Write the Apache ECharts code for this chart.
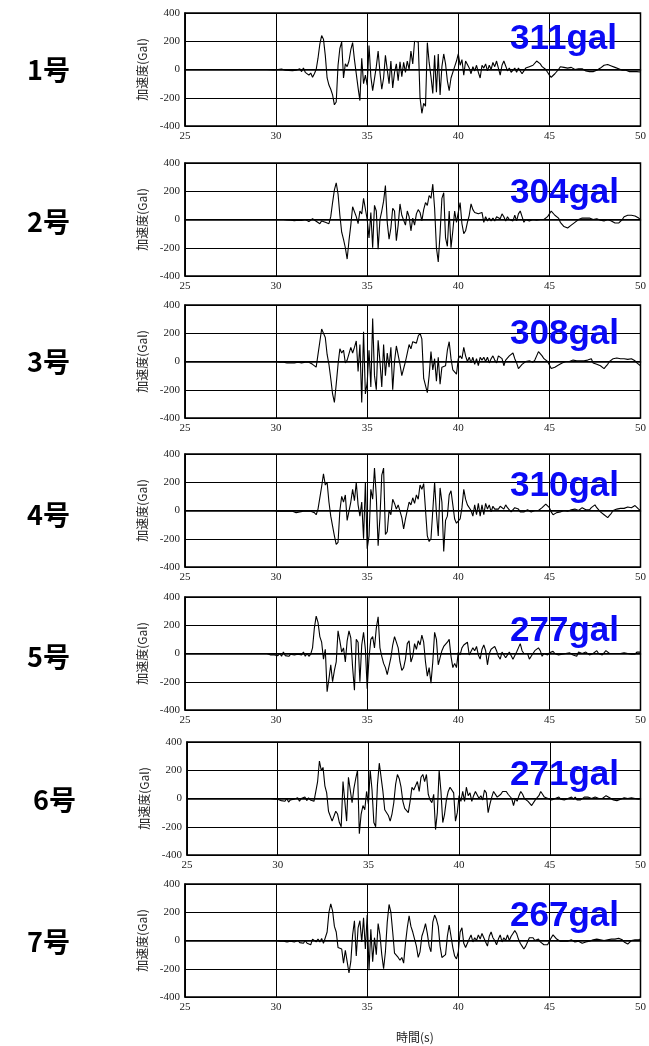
<!DOCTYPE html>
<html>
<head>
<meta charset="utf-8">
<script src="https://cdn.jsdelivr.net/npm/echarts@6/dist/echarts.min.js"></script>
<style>
  html, body { margin: 0; padding: 0; background: #fff; }
  #chart { width: 649px; height: 1046px; }
</style>
</head>
<body>
<div id="chart"></div>
<script>
  // sampling step (s) of the traced records
  const STEP = 0.1;

  const stations = ['1号', '2号', '3号', '4号', '5号', '6号', '7号'];
  const peaks = ['311gal', '304gal', '308gal', '310gal', '277gal', '271gal', '267gal'];
  const startTimes = [29.3, 30.4, 29.4, 29.5, 29.5, 29.4, 30.0];

  // acceleration (gal), one value every STEP seconds from startTimes[i]
  const accel1 = [0,0,0,0,-2,-2,-3,
    -3,0,-5,3,-8,-5,-10,-6,-12,-8,
    -10,-5,-12,5,-15,10,-20,-10,-40,-25,
    -55,-30,0,80,180,240,215,100,-60,-110,
    -140,-180,-250,-230,30,150,195,-60,40,20,
    60,140,190,70,60,-130,-220,80,-100,-40,
    -110,170,-50,-150,-160,20,130,-20,-140,-60,
    100,110,-100,60,-130,-20,40,-80,55,-50,
    50,-20,60,0,130,40,200,210,195,-200,
    -310,-240,-260,190,50,-50,-170,100,-160,110,
    -180,20,110,40,-80,-150,-60,-50,20,60,
    110,30,70,-40,60,50,10,-30,20,-10,
    30,-20,-60,30,10,40,-10,30,0,50,
    20,60,10,-40,30,60,50,-10,10,-20,
    -10,10,-20,10,0,-30,-10,10,0,20,
    10,30,40,60,55,40,20,10,0,-20,
    -40,-55,-50,-30,-20,0,20,25,15,20,
    10,5,15,5,0,10,5,0,5,-5,
    -10,-10,-15,-15,-15,-10,-5,0,10,20,
    30,35,35,30,25,20,15,10,5,0,
    -5,-10,-5,-12,-15,-10,-15,-20,-15,-15,
    -18];

  const accel2 = [0,-2,-3,0,-5,-5,
    -8,-3,-5,-10,-6,-10,0,-8,-15,-5,
    5,-5,-12,-10,-30,-10,-15,-20,-15,-30,
    20,120,210,260,180,30,-90,-140,-200,-280,
    -150,-40,90,80,20,-30,60,40,150,140,
    0,-130,50,-200,100,60,-210,0,60,130,
    240,-20,-140,-60,80,60,-150,-40,110,30,
    30,-40,60,20,-80,10,-40,40,70,50,
    -10,70,120,100,170,150,250,80,-200,-300,
    -100,150,190,-130,-190,60,-200,-80,60,-20,
    50,120,-30,-100,-80,-20,30,110,70,50,
    60,40,30,50,-20,20,-10,10,-10,10,
    -10,20,20,5,40,20,-10,20,0,0,
    -10,30,-10,40,60,20,-20,0,10,-10,
    -10,0,5,-5,-5,0,0,0,5,20,
    40,60,50,30,20,10,-20,-30,-50,-55,
    -60,-55,-40,-30,-20,-10,0,10,10,10,
    10,5,10,10,0,5,5,-5,-5,-10,
    -10,-5,0,-5,-10,-20,-25,-30,-25,-20,
    0,20,30,30,30,30,25,25,15,10,
    0];

  const accel3 = [0,0,0,0,0,0,
    0,5,-5,0,-5,0,-10,-5,-10,-5,
    -10,-15,-5,-10,-10,0,-5,5,-5,5,
    -20,-10,-40,50,140,230,220,170,50,-20,
    -120,-230,-290,-160,-20,90,60,80,-10,10,
    20,100,60,100,145,-70,120,-290,210,-230,
    -150,80,-180,305,-100,-200,150,0,-180,120,
    -100,60,-40,100,-200,0,110,100,-20,-100,
    -110,0,60,120,90,140,150,130,180,200,
    160,-120,-110,-220,-100,70,-60,20,-140,30,
    -160,-40,-50,-30,80,140,20,-60,-50,-90,
    20,40,20,100,40,0,30,-10,30,-20,
    20,-30,30,10,30,0,30,-10,20,40,
    10,-10,40,30,20,-30,10,20,40,30,
    60,20,-10,-50,-40,-20,-10,0,-10,5,
    5,-5,10,40,70,60,40,20,10,0,
    -10,-50,-45,-40,-30,-25,-20,-10,-5,0,
    5,0,5,10,5,5,15,5,0,5,
    0,10,15,20,-10,-20,-20,-25,-30,-40,
    -50,-35,-20,0,10,20,20,25,25,20,
    20,20,15,15,20,20,10,5,-10,-20,
    -30];

  const accel4 = [0,0,0,0,0,
    0,-5,0,-5,-5,-5,-10,-5,-10,-5,
    -10,-15,-5,-10,-15,-5,0,-5,-10,-5,
    -5,-15,-30,10,90,170,260,180,200,60,
    -40,-110,-180,-240,-225,0,100,60,110,-70,
    -60,60,150,70,200,40,-40,60,-200,200,
    -270,-180,150,80,300,100,-250,-50,250,300,
    -170,-150,0,-30,80,50,10,40,50,-50,
    -130,-60,0,60,40,90,50,110,80,180,
    150,190,200,-180,-220,-200,0,200,-20,-180,
    160,60,-290,-70,-40,110,140,40,-60,-90,
    -100,-60,20,150,80,40,50,0,-40,40,
    -30,50,-40,40,-30,50,10,40,-10,30,
    10,0,10,30,20,10,40,20,5,-10,
    0,20,30,10,-10,-20,-10,0,5,5,
    -10,-5,0,-5,0,10,20,30,45,50,
    20,-10,-30,-20,-15,-10,-10,-5,0,0,
    -5,0,5,5,10,5,0,10,20,10,
    5,0,5,20,30,40,20,10,-10,-20,
    -30,-40,-50,-35,-20,0,10,10,10,15,
    20,15,15,25,20,20,25,35,25,10,
    0];

  const accel5 = [0,-5,-10,-5,-10,
    -5,-15,0,-20,10,-15,-10,-20,-5,-15,
    -10,-20,-5,-15,-10,10,-20,0,-20,-5,
    40,180,265,220,120,80,-40,30,-270,-180,
    -80,-200,-120,-60,160,90,10,40,-60,90,
    160,110,-100,-260,100,80,-200,60,150,30,
    -250,-30,100,120,40,180,260,40,-20,-70,
    -100,-150,-160,-30,60,120,80,40,-60,-120,
    -100,-40,70,90,-60,-20,70,30,90,60,
    130,80,-60,-160,-100,-210,-60,150,100,-80,
    -80,20,50,60,80,100,-20,-100,-70,-100,
    10,-10,40,60,70,80,-10,0,40,20,
    50,-10,-40,30,60,20,-80,0,30,30,
    50,20,-20,-40,10,0,-30,-10,10,20,
    -40,-50,10,40,70,20,0,10,0,-40,
    -20,0,20,20,40,20,-20,0,-10,-10,
    5,10,15,0,-5,-10,-10,-5,0,0,
    10,5,-5,-10,-15,-20,10,5,0,5,
    10,0,-10,0,0,10,20,0,-5,-10,
    5,20,10,0,-5,0,0,0,0,0,
    0,5,0,0,-5,-5,-5,-5,10,20,
    10];

  const accel6 = [0,0,0,-2,-3,-3,
    -5,-10,-15,-5,-20,0,-25,-10,-20,-5,
    -15,5,-20,0,-10,10,-15,5,-10,0,
    -20,-10,120,265,200,220,90,40,-90,-100,
    -160,-170,-90,-110,-170,-200,120,130,-160,150,
    140,-30,70,140,200,-250,-110,-50,-80,50,
    -40,200,60,-170,-200,100,250,150,50,-80,
    -90,-120,-160,-110,-30,100,170,140,80,-20,
    -70,-60,-100,-20,80,60,70,120,50,150,
    170,120,170,30,-10,-30,30,-220,-100,200,
    50,-170,-110,-10,50,80,90,40,-160,-100,
    20,-20,50,-20,80,20,40,-20,20,50,
    40,0,20,-10,60,40,-100,-40,10,50,
    40,10,0,30,50,40,50,30,40,0,
    -50,0,-20,20,50,30,0,10,-20,-10,
    -50,-40,-10,0,20,50,30,10,20,0,
    -5,-10,-10,0,0,10,-5,0,-10,-5,
    0,-10,10,-5,10,-10,-20,-10,0,10,
    20,10,5,0,5,10,5,0,0,0,
    5,20,10,5,-5,-10,-20,-15,-10,-5,
    0,5,5,0,0,5,5,0,-5,-5,
    0];

  const accel7 = [0,-5,-5,-5,-5,-10,-10,-5,-5,-10,
    -10,-15,0,-15,-5,-20,0,-20,-10,-30,
    10,20,-10,10,-10,15,-20,-10,60,200,
    260,210,100,60,-50,-40,-60,-160,-70,-150,
    -230,-150,40,140,-110,90,140,-10,160,-60,
    180,-210,80,-150,20,-100,120,40,-100,-200,
    -80,130,255,200,60,-90,-90,-120,-140,-120,
    -160,-20,90,175,100,60,70,-40,-120,-80,
    30,70,120,50,-40,-80,130,180,150,100,
    -40,-120,-130,-100,30,110,100,-50,-110,-130,
    -80,60,90,-20,-50,-50,10,40,-10,20,
    0,40,10,50,20,-10,-40,30,60,20,
    0,-30,10,40,-10,20,0,40,0,30,
    50,70,50,10,-20,-40,-60,-40,-10,20,
    30,20,0,-10,10,-10,-20,-30,-30,-30,
    -30,20,40,30,10,0,-5,-10,-5,0,
    -5,-5,5,0,-10,-5,-5,-10,-20,-15,
    -10,-5,-5,5,5,10,10,5,5,0,
    0,5,5,10,10,10,10,15,15,10,
    5,-10,-20,-25,-20,0,5,5,5,5,
    10];

  const records = [accel1, accel2, accel3, accel4, accel5, accel6, accel7];

  // panel layout
  const tops = [13, 163, 305, 454, 597, 742, 884];
  const lefts = [185, 185, 185, 185, 185, 187, 185];
  const panelH = 113;
  const panelW = 459;
  const stationTops = [56, 208, 348, 501, 643, 786, 928];
  const peakTops = [22, 176, 317, 469, 614, 758, 899];

  var chart = echarts.init(document.getElementById('chart'));

  var grids = [], xAxes = [], yAxes = [], series = [], texts = [];
  for (let i = 0; i < records.length; i++) {
    grids.push({
      left: lefts[i], top: tops[i], width: panelW, height: panelH,
      show: true, borderColor: '#000', borderWidth: 1.5, backgroundColor: '#fff'
    });
    xAxes.push({
      type: 'value', gridIndex: i, min: 25, max: 50, interval: 5,
      axisLine: { show: true, lineStyle: { color: '#000', width: 1.5 } },
      axisTick: { show: false },
      axisLabel: { margin: 5, fontFamily: 'Liberation Serif', fontSize: 11, color: '#222' },
      splitLine: { show: true, lineStyle: { color: '#000', width: 1 } }
    });
    yAxes.push({
      type: 'value', gridIndex: i, min: -400, max: 400, interval: 200,
      name: '加速度(Gal)', nameLocation: 'middle', nameGap: 32,
      nameTextStyle: { fontFamily: 'Noto Sans CJK JP', fontSize: 12, color: '#222' },
      axisLine: { show: true, lineStyle: { color: '#000', width: 1.5 } },
      axisTick: { show: false },
      axisLabel: { margin: 5, fontFamily: 'Liberation Serif', fontSize: 11, color: '#222' },
      splitLine: { show: true, lineStyle: { color: '#000', width: 1 } }
    });
    const t0 = startTimes[i];
    series.push({
      type: 'line', xAxisIndex: i, yAxisIndex: i,
      data: records[i].map((v, k) => [+(t0 + k * STEP).toFixed(2), v]),
      showSymbol: false, symbol: 'none',
      lineStyle: { color: '#000', width: 1.1 },
      z: 3
    });
    texts.push({
      type: 'text', left: i === 5 ? 33 : 27, top: stationTops[i],
      style: { text: stations[i], font: 'bold 27px "Noto Sans CJK JP"', fill: '#000' }
    });
    texts.push({
      type: 'text', left: 510, top: peakTops[i],
      z: 10,
      style: { text: peaks[i], font: 'bold 35px "Liberation Sans"', fill: '#0a0af5' }
    });
  }
  texts.push({
    type: 'text', left: 396, top: 1031,
    style: { text: '時間(s)', font: '12px "Noto Sans CJK JP"', fill: '#222' }
  });

  var option = {
    animation: false,
    backgroundColor: '#fff',
    grid: grids,
    xAxis: xAxes,
    yAxis: yAxes,
    series: series,
    graphic: texts
  };
  chart.setOption(option);
</script>
</body>
</html>
